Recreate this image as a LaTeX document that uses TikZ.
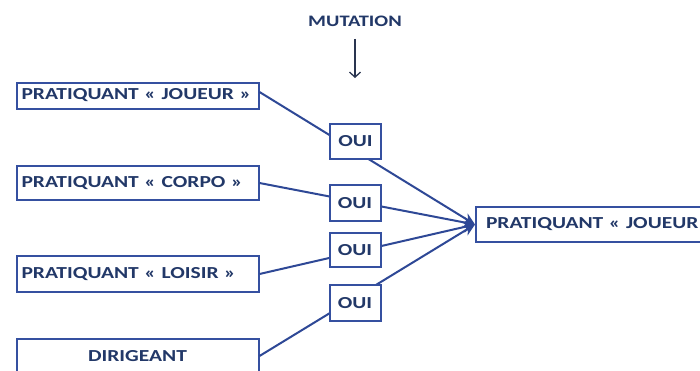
\documentclass[tikz,border=0pt]{standalone}
\usepackage{fontspec}
\setmainfont{Carlito}[FakeStretch=1.28]
\usetikzlibrary{arrows.meta}
\definecolor{txt}{HTML}{223868}
\definecolor{bord}{HTML}{3550A0}
\definecolor{conn}{HTML}{2E4896}
\definecolor{darkarr}{HTML}{2A3550}
\tikzset{
  lbl/.style={font=\fontsize{16.8}{19}\selectfont\bfseries, text=txt},
  lbox/.style={lbl, draw=bord, line width=2pt, fill=white, rectangle,
    text width=232pt, inner xsep=5pt, inner ysep=0pt, align=left},
  ouibox/.style={lbl, draw=bord, line width=2pt, fill=white, rectangle,
    minimum width=51pt, inner sep=0pt},
  link/.style={conn, line width=2pt, -{Stealth[length=12pt,width=11pt]}},
  mutarrow/.style={darkarr, line width=1.3pt, -{Straight Barb[length=5pt,width=11pt]}}
}
\begin{document}
\begin{tikzpicture}[x=1pt,y=-1pt]
\useasboundingbox (0,0) rectangle (700,370);
\clip (0,0) rectangle (700,370);
\fill[white] (0,0) rectangle (700,370);
% left boxes
\node[lbox, minimum height=26pt] (b1) at (137.5,95.5) {PRATIQUANT « JOUEUR »};
\node[lbox, minimum height=34pt] (b2) at (137.5,183) {PRATIQUANT « CORPO »};
\node[lbox, minimum height=36pt] (b3) at (137.5,274) {PRATIQUANT « LOISIR »};
\node[lbox, minimum height=34pt, align=center] (b4) at (137.5,356) {DIRIGEANT};
% target box
\node[lbl, draw=bord, line width=2pt, rectangle, anchor=west, minimum height=35pt,
  text width=230pt, inner xsep=10pt, align=left] (t) at (475,224.5) {PRATIQUANT « JOUEUR};
% mutation
\node[lbl, font=\fontsize{16}{19}\selectfont\bfseries] (mut) at (355,21) {MUTATION};
\coordinate (mutend) at (355,78);
\draw[mutarrow] ([yshift=-9pt]mut.south) -- (mutend);
% connectors
\draw[link] ([yshift=3.5pt]b1.east) -- (t.west);
\draw[link] (b2.east) -- (t.west);
\draw[link] (b3.east) -- (t.west);
\draw[link] (b4.east) -- (t.west);
% OUI boxes on top
\node[ouibox, minimum height=35pt] (o1) at (355.5,141.5) {OUI};
\node[ouibox, minimum height=36pt] (o2) at (355,203) {OUI};
\node[ouibox, minimum height=34pt] (o3) at (355,250) {OUI};
\node[ouibox, minimum height=36pt] (o4) at (355,303) {OUI};
\end{tikzpicture}
\end{document}
